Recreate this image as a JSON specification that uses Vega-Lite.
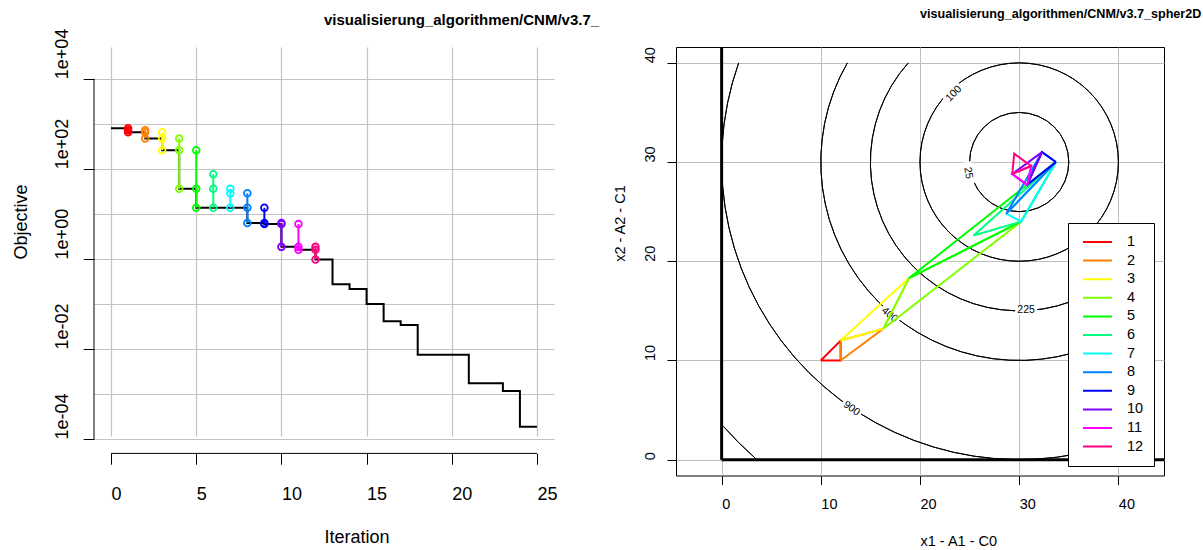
{
  "$schema": "https://vega.github.io/schema/vega-lite/v6.json",
  "padding": {"top": 7, "left": 12, "right": 0, "bottom": 0},
  "config": {
    "font": "Liberation Sans",
    "view": {"stroke": null},
    "axis": {"labelFont": "Liberation Sans", "titleFont": "Liberation Sans", "titleFontWeight": "normal", "labelColor": "#000", "titleColor": "#000", "tickColor": "#000", "labelOverlap": false, "labelBound": false, "labelFlush": false},
    "title": {"font": "Liberation Sans", "color": "#000"},
    "legend": {"labelFont": "Liberation Sans", "labelColor": "#000"}
  },
  "datasets": {
    "best": [
      {"it": 0, "val": 800}, {"it": 1, "val": 648}, {"it": 2, "val": 470}, {"it": 3, "val": 260},
      {"it": 4, "val": 36}, {"it": 5, "val": 13.7}, {"it": 6, "val": 13.7}, {"it": 7, "val": 13.7},
      {"it": 8, "val": 6.29}, {"it": 9, "val": 5.93}, {"it": 10, "val": 1.85}, {"it": 11, "val": 1.6},
      {"it": 12, "val": 0.97}, {"it": 13, "val": 0.275}, {"it": 14, "val": 0.214}, {"it": 15, "val": 0.1},
      {"it": 16, "val": 0.041}, {"it": 17, "val": 0.034}, {"it": 18, "val": 0.0074}, {"it": 19, "val": 0.0074},
      {"it": 20, "val": 0.0074}, {"it": 21, "val": 0.00174}, {"it": 22, "val": 0.00174}, {"it": 23, "val": 0.00117},
      {"it": 24, "val": 0.000186}, {"it": 25, "val": 0.000186}
    ],
    "evals": [
      {"it": 1, "val": 800}, {"it": 1, "val": 724}, {"it": 1, "val": 648},
      {"it": 2, "val": 724}, {"it": 2, "val": 648}, {"it": 2, "val": 470},
      {"it": 3, "val": 648}, {"it": 3, "val": 470}, {"it": 3, "val": 260},
      {"it": 4, "val": 470}, {"it": 4, "val": 260}, {"it": 4, "val": 36},
      {"it": 5, "val": 260}, {"it": 5, "val": 36}, {"it": 5, "val": 13.7},
      {"it": 6, "val": 75.9}, {"it": 6, "val": 36}, {"it": 6, "val": 13.7},
      {"it": 7, "val": 36}, {"it": 7, "val": 28.7}, {"it": 7, "val": 13.7},
      {"it": 8, "val": 28.7}, {"it": 8, "val": 13.7}, {"it": 8, "val": 6.29},
      {"it": 9, "val": 13.7}, {"it": 9, "val": 6.29}, {"it": 9, "val": 5.93},
      {"it": 10, "val": 6.29}, {"it": 10, "val": 5.93}, {"it": 10, "val": 1.85},
      {"it": 11, "val": 5.93}, {"it": 11, "val": 1.85}, {"it": 11, "val": 1.6},
      {"it": 12, "val": 1.85}, {"it": 12, "val": 1.6}, {"it": 12, "val": 0.97}
    ],
    "axislines": [
      {"x": -1, "x2": -1, "y": 0.0001, "y2": 10000},
      {"x": 0, "x2": 25, "y": 0.00004786, "y2": 0.00004786}
    ],
    "simplex": [
      {"it": 1, "v": 0, "x": 10, "y": 10}, {"it": 1, "v": 1, "x": 12, "y": 10}, {"it": 1, "v": 2, "x": 12, "y": 12}, {"it": 1, "v": 3, "x": 10, "y": 10},
      {"it": 2, "v": 0, "x": 12, "y": 10}, {"it": 2, "v": 1, "x": 12, "y": 12}, {"it": 2, "v": 2, "x": 16.3, "y": 13.2}, {"it": 2, "v": 3, "x": 12, "y": 10},
      {"it": 3, "v": 0, "x": 12, "y": 12}, {"it": 3, "v": 1, "x": 16.3, "y": 13.2}, {"it": 3, "v": 2, "x": 18.9, "y": 18.3}, {"it": 3, "v": 3, "x": 12, "y": 12},
      {"it": 4, "v": 0, "x": 16.3, "y": 13.2}, {"it": 4, "v": 1, "x": 18.9, "y": 18.3}, {"it": 4, "v": 2, "x": 30.2, "y": 24.0}, {"it": 4, "v": 3, "x": 16.3, "y": 13.2},
      {"it": 5, "v": 0, "x": 18.9, "y": 18.3}, {"it": 5, "v": 1, "x": 30.2, "y": 24.0}, {"it": 5, "v": 2, "x": 33.7, "y": 30.0}, {"it": 5, "v": 3, "x": 18.9, "y": 18.3},
      {"it": 6, "v": 0, "x": 30.2, "y": 24.0}, {"it": 6, "v": 1, "x": 33.7, "y": 30.0}, {"it": 6, "v": 2, "x": 25.4, "y": 22.6}, {"it": 6, "v": 3, "x": 30.2, "y": 24.0},
      {"it": 7, "v": 0, "x": 30.2, "y": 24.0}, {"it": 7, "v": 1, "x": 33.7, "y": 30.0}, {"it": 7, "v": 2, "x": 28.7, "y": 24.8}, {"it": 7, "v": 3, "x": 30.2, "y": 24.0},
      {"it": 8, "v": 0, "x": 33.7, "y": 30.0}, {"it": 8, "v": 1, "x": 28.7, "y": 24.8}, {"it": 8, "v": 2, "x": 32.3, "y": 31.0}, {"it": 8, "v": 3, "x": 33.7, "y": 30.0},
      {"it": 9, "v": 0, "x": 33.7, "y": 30.0}, {"it": 9, "v": 1, "x": 32.3, "y": 31.0}, {"it": 9, "v": 2, "x": 30.8, "y": 27.7}, {"it": 9, "v": 3, "x": 33.7, "y": 30.0},
      {"it": 10, "v": 0, "x": 32.3, "y": 31.0}, {"it": 10, "v": 1, "x": 30.8, "y": 27.7}, {"it": 10, "v": 2, "x": 29.3, "y": 28.8}, {"it": 10, "v": 3, "x": 32.3, "y": 31.0},
      {"it": 11, "v": 0, "x": 30.8, "y": 27.7}, {"it": 11, "v": 1, "x": 29.3, "y": 28.8}, {"it": 11, "v": 2, "x": 31.2, "y": 29.6}, {"it": 11, "v": 3, "x": 30.8, "y": 27.7},
      {"it": 12, "v": 0, "x": 29.3, "y": 28.8}, {"it": 12, "v": 1, "x": 31.2, "y": 29.6}, {"it": 12, "v": 2, "x": 29.5, "y": 30.85}, {"it": 12, "v": 3, "x": 29.3, "y": 28.8}
    ],
    "contours": [
      {"level": 25, "r": 5, "cx": 30, "cy": 30, "t1": 0, "t2": 6.2832},
      {"level": 100, "r": 10, "cx": 30, "cy": 30, "t1": 0, "t2": 6.2832},
      {"level": 225, "r": 15, "cx": 30, "cy": 30, "t1": 2.4119, "t2": 5.4421},
      {"level": 400, "r": 20, "cx": 30, "cy": 30, "t1": 2.618, "t2": 5.236},
      {"level": 900, "r": 30, "cx": 30, "cy": 30, "t1": 2.8018, "t2": 5.0522},
      {"level": 1600, "r": 40, "cx": 30, "cy": 30, "t1": 3.8643, "t2": 3.9896}
    ],
    "clabels": [
      {"lab": "100", "x": 23.4, "y": 36.9, "ang": -45},
      {"lab": "25", "x": 24.85, "y": 28.9, "ang": 80},
      {"lab": "225", "x": 30.7, "y": 15.05, "ang": 0},
      {"lab": "400", "x": 16.95, "y": 14.6, "ang": 40},
      {"lab": "900", "x": 13.1, "y": 5.15, "ang": 35}
    ],
    "bounds": [
      {"x": 0, "y": 0, "x2": 0, "y2": 100},
      {"x": 0, "y": 0, "x2": 100, "y2": 0}
    ]
  },
  "hconcat": [
    {
      "width": 460,
      "height": 406.4,
      "title": {"text": "visualisierung_algorithmen/CNM/v3.7_", "anchor": "middle", "frame": "group", "align": "left", "baseline": "alphabetic", "fontSize": 15, "fontWeight": "bold", "offset": -12},
      "layer": [
        {
          "data": {"name": "axislines"},
          "mark": {"type": "rule", "color": "black", "strokeWidth": 1},
          "encoding": {
            "x": {"field": "x", "type": "quantitative", "scale": {"domain": [-1, 26], "nice": false, "zero": false}},
            "x2": {"field": "x2"},
            "y": {"field": "y", "type": "quantitative", "scale": {"type": "log", "domain": [0.00004786, 20893], "range": [406.4, 17.4], "nice": false}},
            "y2": {"field": "y2"}
          }
        },
        {
          "data": {"name": "best"},
          "mark": {"type": "line", "interpolate": "step-after", "color": "black", "strokeWidth": 2},
          "encoding": {
            "x": {"field": "it", "type": "quantitative",
              "scale": {"domain": [-1, 26], "nice": false, "zero": false},
              "axis": {"values": [0, 5, 10, 15, 20, 25], "domain": false, "grid": true, "gridColor": "#c4c4c4", "gridWidth": 1.2,
                "tickSize": 10.8, "tickWidth": 1, "labelAlign": "left", "labelBaseline": "alphabetic", "labelPadding": 34.8, "labelFontSize": 18, "labelAngle": 0,
                "title": "Iteration", "titleFontSize": 18, "titleAlign": "left", "titleBaseline": "alphabetic", "titleX": 230, "titleY": 89, "titleAngle": 0}},
            "y": {"field": "val", "type": "quantitative",
              "scale": {"type": "log", "domain": [0.00004786, 20893], "range": [406.4, 17.4], "nice": false},
              "axis": {"values": [0.0001, 0.001, 0.01, 0.1, 1, 10, 100, 1000, 10000], "domain": false, "grid": true, "gridColor": "#c4c4c4", "gridWidth": 1.2,
                "tickSize": 10.8, "tickWidth": 1,
                "tickOpacity": {"condition": {"test": "abs(round(log(datum.value)/LN10)) % 2 == 0", "value": 1}, "value": 0},
                "labelExpr": "abs(round(log(datum.value)/LN10)) % 2 == 0 ? '1e' + (datum.value >= 1 ? '+' : '-') + '0' + abs(round(log(datum.value)/LN10)) : ''",
                "labelAngle": 270, "labelAlign": "left", "labelBaseline": "alphabetic", "labelPadding": 15.5, "labelFontSize": 18,
                "title": "Objective", "titleFontSize": 18, "titleAngle": 270, "titleAlign": "left", "titleBaseline": "alphabetic", "titleX": -67.5, "titleY": 211.9}}
          }
        },
        {
          "data": {"name": "evals"},
          "mark": {"type": "line", "strokeWidth": 2},
          "encoding": {
            "x": {"field": "it", "type": "quantitative"},
            "y": {"field": "val", "type": "quantitative"},
            "order": {"field": "val", "type": "quantitative"},
            "color": {"field": "it", "type": "ordinal", "legend": null,
              "scale": {"domain": [1, 2, 3, 4, 5, 6, 7, 8, 9, 10, 11, 12], "range": ["#FF0000", "#FF8000", "#FFFF00", "#80FF00", "#00FF00", "#00FF80", "#00FFFF", "#0080FF", "#0000FF", "#8000FF", "#FF00FF", "#FF0080"]}}
          }
        },
        {
          "data": {"name": "evals"},
          "mark": {"type": "point", "filled": false, "size": 45, "strokeWidth": 1.8, "opacity": 1},
          "encoding": {
            "x": {"field": "it", "type": "quantitative"},
            "y": {"field": "val", "type": "quantitative"},
            "color": {"field": "it", "type": "ordinal", "legend": null}
          }
        }
      ]
    },
    {
      "width": 488,
      "height": 428.5,
      "view": {"stroke": "black", "strokeWidth": 1},
      "title": {"text": "visualisierung_algorithmen/CNM/v3.7_spher2D", "anchor": "middle", "frame": "group", "align": "left", "baseline": "alphabetic", "fontSize": 12.6, "fontWeight": "bold", "offset": 16},
      "layer": [
        {
          "data": {"name": "contours"},
          "mark": {"type": "arc", "fill": "transparent", "stroke": "black", "strokeWidth": 1, "clip": true},
          "encoding": {
            "x": {"field": "cx", "type": "quantitative",
              "scale": {"domain": [-4.6, 44.6], "nice": false, "zero": false},
              "axis": {"values": [0, 10, 20, 30, 40], "domain": false, "grid": true, "gridColor": "#bebebe", "gridWidth": 1,
                "tickSize": 9, "tickWidth": 1, "labelAlign": "left", "labelBaseline": "alphabetic", "labelPadding": 24, "labelFontSize": 14.5, "labelAngle": 0,
                "title": "x1 - A1 - C0", "titleFontSize": 14.5, "titleAlign": "left", "titleBaseline": "alphabetic", "titleX": 244, "titleY": 70, "titleAngle": 0}},
            "y": {"field": "cy", "type": "quantitative",
              "scale": {"domain": [-1.6, 41.6], "nice": false, "zero": false},
              "axis": {"values": [0, 10, 20, 30, 40], "domain": false, "grid": true, "gridColor": "#bebebe", "gridWidth": 1,
                "tickSize": 9, "tickWidth": 1, "labelAngle": 270, "labelAlign": "left", "labelBaseline": "alphabetic", "labelPadding": 12.5, "labelFontSize": 14.5,
                "title": "x2 - A2 - C1", "titleFontSize": 14.5, "titleAngle": 270, "titleAlign": "left", "titleBaseline": "alphabetic", "titleX": -52, "titleY": 214.3}},
            "radius": {"field": "r", "type": "quantitative", "scale": {"type": "linear", "domain": [0, 49.2], "range": [0, 488], "zero": true}},
            "radius2": {"field": "r"},
            "theta": {"field": "t1", "type": "quantitative", "scale": null},
            "theta2": {"field": "t2"}
          }
        },
        {
          "data": {"name": "clabels"},
          "mark": {"type": "point", "shape": "M-1,-0.45H1V0.45H-1Z", "size": 484, "filled": true, "fill": "white", "stroke": null, "opacity": 1},
          "encoding": {
            "x": {"field": "x", "type": "quantitative"},
            "y": {"field": "y", "type": "quantitative"},
            "angle": {"field": "ang", "type": "quantitative", "scale": null}
          }
        },
        {
          "data": {"name": "clabels"},
          "mark": {"type": "text", "fontSize": 10.5, "font": "Liberation Sans", "color": "black", "align": "center", "baseline": "middle"},
          "encoding": {
            "x": {"field": "x", "type": "quantitative"},
            "y": {"field": "y", "type": "quantitative"},
            "angle": {"field": "ang", "type": "quantitative", "scale": null},
            "text": {"field": "lab"}
          }
        },
        {
          "data": {"name": "bounds"},
          "mark": {"type": "rule", "color": "black", "strokeWidth": 3, "clip": true},
          "encoding": {
            "x": {"field": "x", "type": "quantitative"},
            "x2": {"field": "x2"},
            "y": {"field": "y", "type": "quantitative"},
            "y2": {"field": "y2"}
          }
        },
        {
          "data": {"name": "simplex"},
          "mark": {"type": "line", "strokeWidth": 2, "clip": true},
          "encoding": {
            "x": {"field": "x", "type": "quantitative"},
            "y": {"field": "y", "type": "quantitative"},
            "order": {"field": "v", "type": "quantitative"},
            "color": {"field": "it", "type": "ordinal",
              "scale": {"domain": [1, 2, 3, 4, 5, 6, 7, 8, 9, 10, 11, 12], "range": ["#FF0000", "#FF8000", "#FFFF00", "#80FF00", "#00FF00", "#00FF80", "#00FFFF", "#0080FF", "#0000FF", "#8000FF", "#FF00FF", "#FF0080"]},
              "legend": {"orient": "none", "legendX": 392, "legendY": 176, "title": null, "strokeColor": "black", "fillColor": "white", "padding": 10,
                "symbolType": "stroke", "symbolSize": 841, "symbolStrokeWidth": 2, "symbolOffset": 4, "labelFontSize": 14.5, "labelOffset": 14,
                "rowPadding": 0.6, "clipHeight": 18, "cornerRadius": 0}}
          }
        }
      ]
    }
  ],
  "spacing": 122,
  "bounds": "flush",
  "resolve": {"scale": {"color": "independent"}, "legend": {"color": "independent"}}
}
